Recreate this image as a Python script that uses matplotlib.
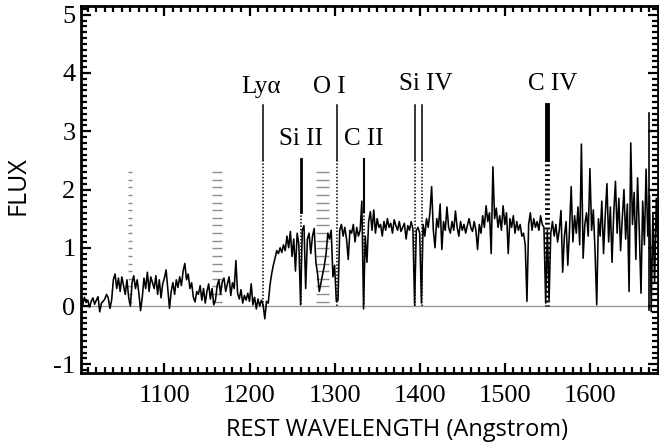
import numpy as np
import matplotlib
matplotlib.use("Agg")
import matplotlib.pyplot as plt
from matplotlib.ticker import MultipleLocator

plt.rcParams['axes.unicode_minus'] = False

# rest wavelength grid (Angstrom), 2 A steps
wave = np.arange(1000, 1682, 2)

# Ly-alpha forest part, 1000-1218
flux_forest = [
    0.05, 0.12, 0.02, 0.15, 0.06, 0.10, -0.02, 0.08, 0.14, 0.03,
    0.10, 0.16, -0.10, 0.05, 0.08, 0.12, 0.20, 0.14, -0.04, 0.10,
    0.45, 0.55, 0.30, 0.48, 0.25, 0.50, 0.35, 0.20, 0.45, 0.15,
    0.00, 0.40, 0.52, 0.30, 0.45, 0.22, -0.08, 0.15, 0.48, 0.30,
    0.58, 0.25, 0.50, 0.40, 0.30, 0.52, 0.20, 0.45, 0.14, 0.38,
    0.48, 0.62, 0.30, -0.04, 0.25, 0.40, 0.20, 0.45, 0.32, 0.50,
    0.35, 0.60, 0.73, 0.45, 0.55, 0.30, 0.40, 0.15, 0.07, 0.25,
    0.20, 0.35, 0.10, 0.30, 0.05, 0.25, 0.38, 0.12, 0.30, 0.02,
    0.10, 0.35, 0.45, 0.20, 0.42, 0.48, 0.25, 0.38, 0.50, 0.18,
    0.40, 0.30, 0.78, 0.22, 0.12, 0.28, 0.05, 0.18, 0.10, 0.22,
    0.08, 0.38, 0.02, 0.15, -0.05, 0.12, 0.00, 0.10, 0.02, -0.22,
]
# 1220-1398
flux_mid = [
    0.08, 0.05, 0.35, 0.55, 0.70, 0.82, 0.95, 0.90, 1.00, 0.92,
    1.05, 0.95, 1.20, 1.00, 1.28, 0.85, 1.15, 0.60, 1.25, 1.05,
    0.02, 1.30, 1.38, 0.30, 1.15, 1.25, 0.90, 1.20, 1.33, 0.75,
    0.55, 0.25, 0.40, 0.55, 0.70, 0.90, 1.25, 1.15, 1.30, 0.50,
    0.70, 0.08, 0.10, 1.30, 1.40, 1.20, 1.35, 1.15, 0.80, 1.30,
    1.25, 1.40, 1.10, 1.35, 1.20, 1.30, 1.80, -0.05, 1.20, 0.75,
    1.45, 1.62, 1.30, 1.65, 1.25, 1.50, 1.35, 1.40, 1.20, 1.45,
    1.30, 1.50, 1.35, 1.42, 1.25, 1.48, 1.38, 1.30, 1.45, 1.28,
    1.35, 1.42, 1.15, 1.38, 1.30, 1.45, 1.32, 0.02, 1.30, 1.35,
]
# 1400-1680
flux_red = [
    1.25, 0.05, 1.40, 1.20, 1.50, 1.35, 1.60, 2.05, 1.30, 1.00,
    1.50, 1.35, 1.75, 0.97, 1.45, 1.30, 1.70, 1.35, 1.25, 1.45,
    1.30, 1.63, 1.35, 1.20, 1.45, 1.30, 1.40, 1.25, 1.38, 1.50,
    1.35, 1.28, 1.45, 1.30, 0.97, 1.40, 1.25, 1.55, 1.35, 1.72,
    1.45, 1.60, 0.90, 2.39, 1.50, 1.68, 1.35, 1.55, 1.30, 1.72,
    1.40, 1.60, 0.90, 1.50, 1.35, 1.55, 1.25, 1.45, 1.30, 1.40,
    1.20, 1.25, 1.05, 0.08, 1.40, 1.60, 1.30, 1.50, 1.35, 1.45,
    1.30, 1.55, 1.40, 1.35, 0.05, 1.30, 0.10, 1.25, 1.45, 1.20,
    1.40, 1.10, 1.30, 1.64, 0.58, 1.20, 1.45, 0.70, 1.30, 2.05,
    1.10, 1.55, 1.25, 1.70, 1.05, 2.78, 0.82, 1.40, 1.60, 1.20,
    2.36, 1.30, 1.65, 0.95, 0.02, 1.50, 1.20, 1.80, 0.90, 1.55,
    2.10, 1.10, 1.70, 0.75, 1.60, 2.14, 1.25, 1.85, 0.95, 1.50,
    2.00, 1.15, 1.75, 0.25, 2.80, 1.40, 1.95, 0.80, 2.20, 1.30,
    0.22, 1.80, 1.05, 2.35, 1.20, 1.90, -0.10, 1.60, 0.40, 1.85,
    1.00,
]
flux = np.array(flux_forest + flux_mid + flux_red)

# line identifications
tall_names = ["Ly\u03b1", "O I"]
tall_waves = [1216, 1303]
short_names = ["Si II", "C II"]
short_waves = [1260, 1335]
siiv_waves = [1394, 1403]
civ_wave = 1550

# masked (hatched) regions
mask_lo = [1057.5, 1156.5, 1278]
mask_hi = [1062.5, 1168, 1293]

fig = plt.figure(figsize=(6.59, 4.42), dpi=100)
ax = fig.add_axes([81/659, 69/442, 577/659, 367/442])

ax.axhline(0, color='0.6', lw=1, zorder=1)

levels = np.arange(2.3, 0.0, -0.131)
for lo, hi in zip(mask_lo, mask_hi):
    ax.hlines(levels, lo, hi, color='0.55', lw=1, zorder=1)

ax.plot(wave, flux, color='black', lw=1.15, zorder=3)

serif = 'Liberation Serif'
for w in tall_waves + siiv_waves:
    ax.plot([w, w], [3.45, 2.5], color='black', lw=1.1)
    ax.plot([w, w], [2.5, 0.0], color='black', lw=1.1, ls=(0, (1, 1.2)))
for w, lw in zip(short_waves, [2.0, 1.5]):
    ax.plot([w, w], [2.52, 1.61], color='black', lw=lw)
    ax.plot([w, w], [1.61, 0.0], color='black', lw=1.1, ls=(0, (1, 1.2)))
ax.plot([civ_wave, civ_wave], [3.45, 2.52], color='black', lw=3.5)
ax.plot([civ_wave, civ_wave], [2.52, 0.0], color='black', lw=3.5, ls=(0, (0.4, 0.6)))

txt = dict(fontsize=18, family=serif, ha='center', va='baseline')
ax.text(1213, 3.65, tall_names[0], **txt)
ax.text(1294, 3.65, tall_names[1], **txt)
ax.text(1261, 2.76, short_names[0], **txt)
ax.text(1334, 2.76, short_names[1], **txt)
ax.text(1407, 3.70, "Si IV", **txt)
ax.text(1556, 3.70, "C IV", **txt)

# stray axis line near the red end
ax.plot([1670, 1670], [-0.07, 3.31], color='black', lw=1.2)
ax.hlines([0, 1, 2, 3], 1668, 1676, color='black', lw=1.5)

ax.set_xlim(1002, 1680)
ax.set_ylim(-1.15, 5.15)
ax.xaxis.set_major_locator(MultipleLocator(100))
ax.xaxis.set_minor_locator(MultipleLocator(10))
ax.yaxis.set_major_locator(MultipleLocator(1))
ax.yaxis.set_minor_locator(MultipleLocator(0.1))
ax.tick_params(which='both', direction='in', top=True, right=True, width=1.6)
ax.tick_params(which='major', length=7)
ax.tick_params(which='minor', length=4)
ax.tick_params(axis='x', pad=9)
ax.tick_params(axis='y', pad=4)
for lab in ax.get_xticklabels() + ax.get_yticklabels():
    lab.set_family(serif)
    lab.set_fontsize(19)
for sp in ax.spines.values():
    sp.set_linewidth(2)

ax.set_xlabel("REST WAVELENGTH (Angstrom)", family='Open Sans', fontsize=17)
ax.set_ylabel("FLUX", family='Open Sans', fontsize=18)
ax.xaxis.label.set_va('baseline')
ax.xaxis.set_label_coords(0.548, -0.172)
ax.yaxis.set_label_coords(-0.088, 0.51)

fig.savefig("out.png", dpi=100)
